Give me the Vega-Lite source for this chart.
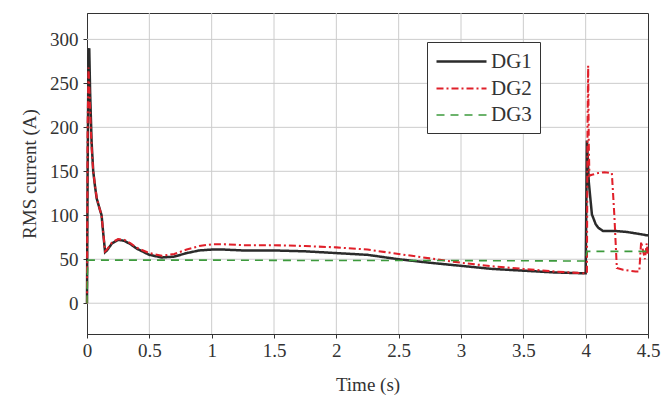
{
  "$schema": "https://vega.github.io/schema/vega-lite/v6.json",
  "width": 561,
  "height": 321,
  "autosize": {"type": "none"},
  "padding": {"left": 87, "top": 13, "right": 14, "bottom": 64},
  "config": {
    "view": {"stroke": "#333333", "strokeWidth": 1},
    "axis": {
      "labelFont": "Liberation Serif",
      "titleFont": "Liberation Serif",
      "labelFontSize": 19,
      "titleFontSize": 19,
      "titleFontWeight": "normal",
      "labelColor": "#333333",
      "titleColor": "#333333",
      "domainColor": "#333333",
      "tickColor": "#333333",
      "tickSize": 4,
      "grid": false
    },
    "legend": {
      "labelFont": "Liberation Serif",
      "labelFontSize": 21,
      "labelColor": "#333333"
    }
  },
  "layer": [
    {
      "data": {"values": [{"t": 0.5}, {"t": 1}, {"t": 1.5}, {"t": 2}, {"t": 2.5}, {"t": 3}, {"t": 3.5}, {"t": 4}]},
      "mark": {"type": "rule", "color": "#cccccc", "strokeWidth": 1},
      "encoding": {
        "x": {"field": "t", "type": "quantitative", "scale": {"domain": [0, 4.5], "nice": false},
              "axis": {"tickCount": 9, "format": "~g", "title": "Time (s)", "labelPadding": 3, "titlePadding": 15, "labelFlush": false}}
      }
    },
    {
      "data": {"values": [{"v": 0}, {"v": 50}, {"v": 100}, {"v": 150}, {"v": 200}, {"v": 250}, {"v": 300}]},
      "mark": {"type": "rule", "color": "#cccccc", "strokeWidth": 1},
      "encoding": {
        "y": {"field": "v", "type": "quantitative", "scale": {"domain": [-35, 330], "nice": false},
              "axis": {"tickCount": 7, "title": "RMS current (A)", "labelPadding": 5, "titlePadding": 10}}
      }
    },
    {
      "data": {
        "values": [
          {"t": 0, "v": 0, "series": "DG1"},
          {"t": 0.005, "v": 150, "series": "DG1"},
          {"t": 0.012, "v": 280, "series": "DG1"},
          {"t": 0.018, "v": 290, "series": "DG1"},
          {"t": 0.025, "v": 240, "series": "DG1"},
          {"t": 0.037, "v": 183, "series": "DG1"},
          {"t": 0.05, "v": 150, "series": "DG1"},
          {"t": 0.065, "v": 132, "series": "DG1"},
          {"t": 0.078, "v": 119, "series": "DG1"},
          {"t": 0.1, "v": 108, "series": "DG1"},
          {"t": 0.117, "v": 100, "series": "DG1"},
          {"t": 0.13, "v": 80, "series": "DG1"},
          {"t": 0.145, "v": 58, "series": "DG1"},
          {"t": 0.16, "v": 60, "series": "DG1"},
          {"t": 0.2, "v": 68, "series": "DG1"},
          {"t": 0.25, "v": 72, "series": "DG1"},
          {"t": 0.3, "v": 71, "series": "DG1"},
          {"t": 0.35, "v": 67, "series": "DG1"},
          {"t": 0.4, "v": 62, "series": "DG1"},
          {"t": 0.5, "v": 55, "series": "DG1"},
          {"t": 0.6, "v": 52, "series": "DG1"},
          {"t": 0.7, "v": 53, "series": "DG1"},
          {"t": 0.8, "v": 57, "series": "DG1"},
          {"t": 0.9, "v": 60, "series": "DG1"},
          {"t": 1.0, "v": 61, "series": "DG1"},
          {"t": 1.1, "v": 61, "series": "DG1"},
          {"t": 1.25, "v": 60, "series": "DG1"},
          {"t": 1.5, "v": 60, "series": "DG1"},
          {"t": 1.75, "v": 59, "series": "DG1"},
          {"t": 2.0, "v": 57, "series": "DG1"},
          {"t": 2.25, "v": 55, "series": "DG1"},
          {"t": 2.5, "v": 50, "series": "DG1"},
          {"t": 2.75, "v": 46, "series": "DG1"},
          {"t": 3.0, "v": 42.5, "series": "DG1"},
          {"t": 3.25, "v": 39, "series": "DG1"},
          {"t": 3.5, "v": 37, "series": "DG1"},
          {"t": 3.75, "v": 35, "series": "DG1"},
          {"t": 3.99, "v": 34, "series": "DG1"},
          {"t": 4.0, "v": 34, "series": "DG1"},
          {"t": 4.01, "v": 185, "series": "DG1"},
          {"t": 4.025, "v": 138, "series": "DG1"},
          {"t": 4.05, "v": 101, "series": "DG1"},
          {"t": 4.08, "v": 90, "series": "DG1"},
          {"t": 4.1, "v": 86, "series": "DG1"},
          {"t": 4.14, "v": 82, "series": "DG1"},
          {"t": 4.25, "v": 82, "series": "DG1"},
          {"t": 4.33, "v": 81, "series": "DG1"},
          {"t": 4.42, "v": 79, "series": "DG1"},
          {"t": 4.5, "v": 77, "series": "DG1"},

          {"t": 0, "v": 0, "series": "DG2"},
          {"t": 0.005, "v": 200, "series": "DG2"},
          {"t": 0.012, "v": 268, "series": "DG2"},
          {"t": 0.02, "v": 240, "series": "DG2"},
          {"t": 0.03, "v": 200, "series": "DG2"},
          {"t": 0.04, "v": 170, "series": "DG2"},
          {"t": 0.05, "v": 150, "series": "DG2"},
          {"t": 0.065, "v": 133, "series": "DG2"},
          {"t": 0.078, "v": 120, "series": "DG2"},
          {"t": 0.1, "v": 108, "series": "DG2"},
          {"t": 0.117, "v": 100, "series": "DG2"},
          {"t": 0.13, "v": 80, "series": "DG2"},
          {"t": 0.145, "v": 59, "series": "DG2"},
          {"t": 0.16, "v": 61, "series": "DG2"},
          {"t": 0.2, "v": 69, "series": "DG2"},
          {"t": 0.25, "v": 73, "series": "DG2"},
          {"t": 0.3, "v": 72, "series": "DG2"},
          {"t": 0.35, "v": 68, "series": "DG2"},
          {"t": 0.4, "v": 63, "series": "DG2"},
          {"t": 0.5, "v": 57, "series": "DG2"},
          {"t": 0.6, "v": 54, "series": "DG2"},
          {"t": 0.7, "v": 56, "series": "DG2"},
          {"t": 0.8, "v": 61, "series": "DG2"},
          {"t": 0.9, "v": 65, "series": "DG2"},
          {"t": 1.0, "v": 67, "series": "DG2"},
          {"t": 1.1, "v": 67, "series": "DG2"},
          {"t": 1.25, "v": 66, "series": "DG2"},
          {"t": 1.5, "v": 66, "series": "DG2"},
          {"t": 1.75, "v": 65, "series": "DG2"},
          {"t": 2.0, "v": 63.5, "series": "DG2"},
          {"t": 2.25, "v": 61, "series": "DG2"},
          {"t": 2.5, "v": 56, "series": "DG2"},
          {"t": 2.75, "v": 51, "series": "DG2"},
          {"t": 3.0, "v": 46, "series": "DG2"},
          {"t": 3.25, "v": 42, "series": "DG2"},
          {"t": 3.5, "v": 39, "series": "DG2"},
          {"t": 3.75, "v": 36, "series": "DG2"},
          {"t": 3.99, "v": 34, "series": "DG2"},
          {"t": 4.01, "v": 34, "series": "DG2"},
          {"t": 4.015, "v": 200, "series": "DG2"},
          {"t": 4.02, "v": 270, "series": "DG2"},
          {"t": 4.025, "v": 180, "series": "DG2"},
          {"t": 4.03, "v": 145, "series": "DG2"},
          {"t": 4.05, "v": 146, "series": "DG2"},
          {"t": 4.1, "v": 148, "series": "DG2"},
          {"t": 4.15, "v": 149, "series": "DG2"},
          {"t": 4.21, "v": 148, "series": "DG2"},
          {"t": 4.23, "v": 100, "series": "DG2"},
          {"t": 4.25, "v": 40, "series": "DG2"},
          {"t": 4.3, "v": 38, "series": "DG2"},
          {"t": 4.4, "v": 36, "series": "DG2"},
          {"t": 4.43, "v": 36, "series": "DG2"},
          {"t": 4.445, "v": 70, "series": "DG2"},
          {"t": 4.46, "v": 60, "series": "DG2"},
          {"t": 4.475, "v": 50, "series": "DG2"},
          {"t": 4.49, "v": 68, "series": "DG2"},
          {"t": 4.5, "v": 55, "series": "DG2"},

          {"t": 0, "v": 0, "series": "DG3"},
          {"t": 0.005, "v": 48, "series": "DG3"},
          {"t": 0.01, "v": 49, "series": "DG3"},
          {"t": 1.0, "v": 49, "series": "DG3"},
          {"t": 2.0, "v": 48.5, "series": "DG3"},
          {"t": 3.0, "v": 48.5, "series": "DG3"},
          {"t": 4.0, "v": 48, "series": "DG3"},
          {"t": 4.01, "v": 59, "series": "DG3"},
          {"t": 4.5, "v": 59, "series": "DG3"}
        ]
      },
      "mark": {"type": "line"},
      "encoding": {
        "x": {"field": "t", "type": "quantitative", "scale": {"domain": [0, 4.5], "nice": false},
              "axis": {"tickCount": 9, "format": "~g", "title": "Time (s)", "labelPadding": 3, "titlePadding": 15, "labelFlush": false}},
        "y": {"field": "v", "type": "quantitative", "scale": {"domain": [-35, 330], "nice": false},
              "axis": {"tickCount": 7, "title": "RMS current (A)", "labelPadding": 5, "titlePadding": 10}},
        "color": {
          "field": "series",
          "type": "nominal",
          "scale": {"domain": ["DG1", "DG2", "DG3"], "range": ["#2b2b2b", "#e0202a", "#3c9a3c"]},
          "legend": {
            "title": null,
            "orient": "none",
            "legendX": 340,
            "legendY": 29,
            "symbolType": "M-1,0H4",
            "symbolSize": 400,
            "symbolStrokeWidth": 2,
            "strokeColor": "#333333",
            "fillColor": "white",
            "padding": 8,
            "rowPadding": 5,
            "labelOffset": 33,
            "labelFont": "Liberation Serif",
            "labelFontSize": 21
          }
        },
        "strokeDash": {
          "field": "series",
          "type": "nominal",
          "scale": {"domain": ["DG1", "DG2", "DG3"], "range": [[1, 0], [7, 3, 2, 3], [8, 6]]},
          "legend": {
            "title": null,
            "orient": "none",
            "legendX": 340,
            "legendY": 29,
            "symbolType": "M-1,0H4",
            "symbolSize": 400,
            "symbolStrokeWidth": 2,
            "strokeColor": "#333333",
            "fillColor": "white",
            "padding": 8,
            "rowPadding": 5,
            "labelOffset": 33,
            "labelFont": "Liberation Serif",
            "labelFontSize": 21
          }
        },
        "strokeWidth": {
          "field": "series",
          "type": "nominal",
          "scale": {"domain": ["DG1", "DG2", "DG3"], "range": [2.5, 1.6, 1.6]},
          "legend": null
        }
      }
    }
  ]
}
